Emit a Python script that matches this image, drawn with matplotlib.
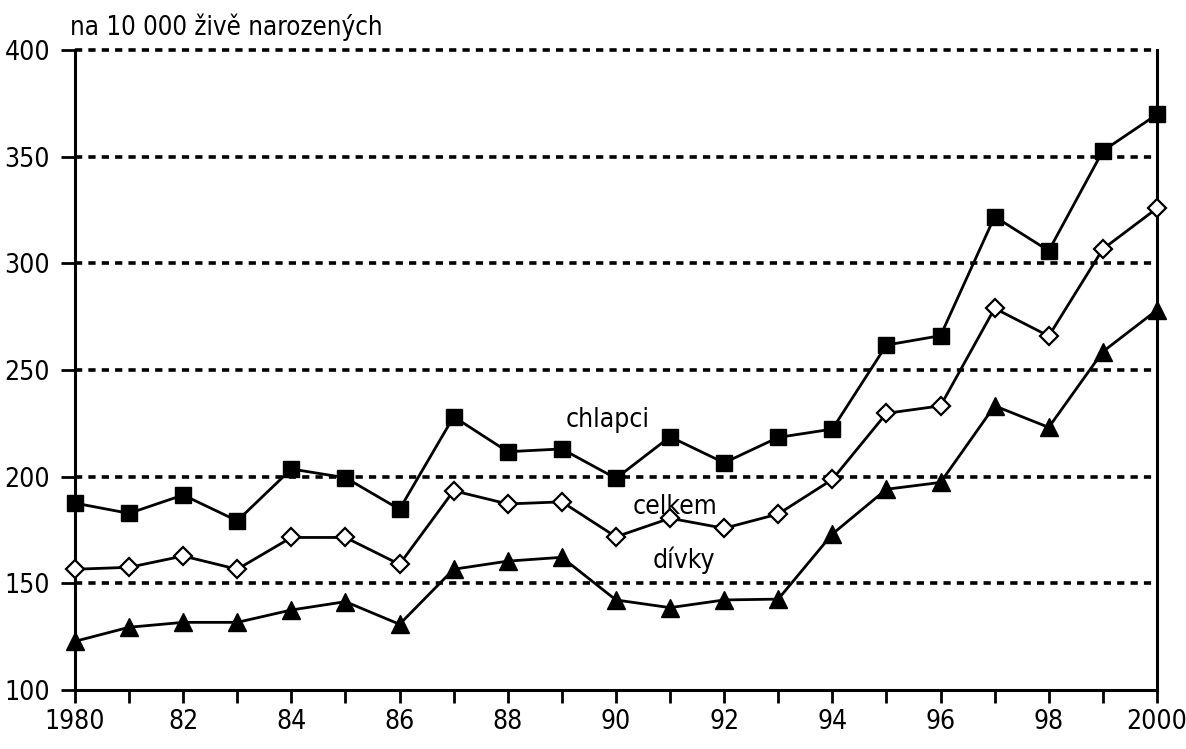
import matplotlib
matplotlib.use('Agg')
import matplotlib.pyplot as plt
from matplotlib import font_manager
from matplotlib.ticker import MultipleLocator

# pick a narrow sans font if one is installed
names = {f.name for f in font_manager.fontManager.ttflist}
stretch = 'normal'
if 'Liberation Sans Narrow' in names:
    fam = ['Liberation Sans Narrow', 'DejaVu Sans']
    fs = 21
elif any('Condensed' in f.fname and 'DejaVuSans' in f.fname for f in font_manager.fontManager.ttflist):
    fam = ['DejaVu Sans']
    stretch = 'condensed'
    fs = 19
else:
    fam = ['Liberation Sans', 'DejaVu Sans']
    fs = 18
plt.rcParams['font.family'] = fam
plt.rcParams['font.stretch'] = stretch

# Data (na 10 000 živě narozených)
years = list(range(1980, 2001))
chlapci = [187.6, 182.8, 191.4, 179.3, 203.6, 199.5, 184.7, 228.1, 211.7, 213.0, 199.2,
           218.7, 206.5, 218.4, 222.3, 261.7, 266.1, 321.9, 305.9, 352.7, 369.8]
celkem = [156.6, 157.5, 162.8, 156.6, 171.5, 171.5, 158.9, 193.4, 187.2, 188.2, 171.8,
          180.5, 175.8, 182.5, 198.7, 229.7, 233.2, 278.9, 265.9, 306.7, 325.8]
divky = [122.8, 129.4, 131.7, 131.7, 137.5, 141.4, 130.8, 156.6, 160.4, 162.2, 142.2,
         138.6, 142.2, 142.6, 173.1, 194.1, 197.3, 233.2, 223.1, 258.6, 278.1]
tick_labels = ['1980', '82', '84', '86', '88', '90', '92', '94', '96', '98', '2000']

fig = plt.figure(figsize=(11.86, 7.49), dpi=100)
ax = fig.add_axes([0.0632, 0.0788, 0.9123, 0.8544])

ax.plot(years, chlapci, color='black', lw=2, marker='s', ms=12, zorder=4, clip_on=False)
ax.plot(years, celkem, color='black', lw=2, marker='D', ms=9.5, mfc='white',
        mec='black', mew=1.6, zorder=4, clip_on=False)
ax.plot(years, divky, color='black', lw=2, marker='^', ms=13, zorder=4, clip_on=False)

ax.set_xlim(1980, 2000)
ax.set_ylim(100, 400)
ax.set_yticks([100, 150, 200, 250, 300, 350, 400])
ax.set_xticks(range(1980, 2001, 2))
ax.set_xticklabels(tick_labels)
ax.xaxis.set_minor_locator(MultipleLocator(1))

# dashed horizontal grid
for v in [150, 200, 250, 300, 350, 400]:
    ax.axhline(v, color='black', lw=2.6, ls=(0, (2.0, 1.7)), zorder=1, clip_on=False)

for s in ['left', 'bottom', 'right']:
    ax.spines[s].set_linewidth(2.2)
ax.spines['top'].set_visible(False)

ax.tick_params(axis='both', which='both', direction='out', width=2, labelsize=fs)
ax.tick_params(axis='y', length=10, pad=8)
ax.tick_params(axis='x', which='major', length=9, pad=5)
ax.tick_params(axis='x', which='minor', length=9)

ax.text(1989.85, 226.5, 'chlapci', fontsize=fs, ha='center', va='center')
ax.text(1991.1, 186, 'celkem', fontsize=fs, ha='center', va='center')
ax.text(1991.25, 161, 'dívky', fontsize=fs, ha='center', va='center')

fig.text(0.059, 0.963, 'na 10 000 živě narozených', fontsize=fs - 0.5, ha='left', va='center')

fig.savefig('out.png', dpi=100)
